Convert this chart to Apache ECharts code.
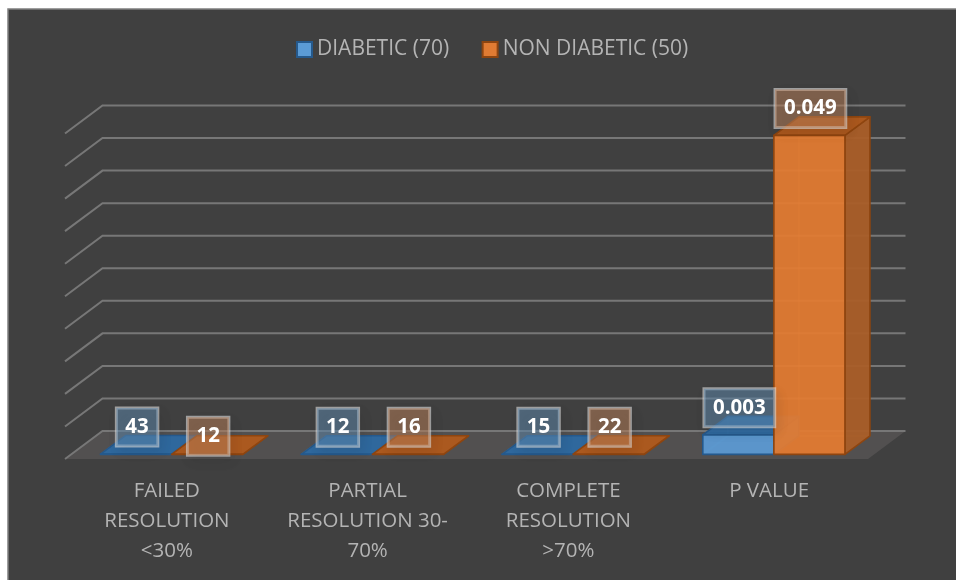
<!DOCTYPE html>
<html>
<head>
<meta charset="utf-8">
<style>html,body{margin:0;padding:0;background:#fff}#chart{width:956px;height:580px}</style>
<script src="https://cdn.jsdelivr.net/npm/echarts@6/dist/echarts.min.js"></script>
</head>
<body>
<div id="chart"></div>
<script>
// Categories, series names and values
const categories = ['FAILED\nRESOLUTION\n<30%', 'PARTIAL\nRESOLUTION 30-\n70%', 'COMPLETE\nRESOLUTION\n>70%', 'P VALUE'];
const seriesNames = ['DIABETIC (70)', 'NON DIABETIC (50)'];
const diabeticCounts = [43, 12, 15];
const nonDiabeticCounts = [12, 16, 22];
const diabeticP = [0.003];
const nonDiabeticP = [0.049];
const pTicks = [0, 0.005, 0.01, 0.015, 0.02, 0.025, 0.03, 0.035, 0.04, 0.045, 0.05];

// Oblique projection of the plot box
const FONT = '"Open Sans", "Noto Sans", sans-serif';
const WALL_DX = 37.5, WALL_DY = -28;
const BAR_DX = 25, BAR_DY = -18.5;
const BAR_INSET_X = 6.25, BAR_INSET_Y = -4.6;
const BAR_SHARE = 0.354;

const palette = [
  { front: 'rgba(91,155,213,0.93)', side: 'rgba(60,115,170,0.9)', top: 'rgba(44,106,164,0.92)',
    edge: '#25598c', inner: 'rgba(150,200,240,0.18)', box: 'rgba(96,140,178,0.5)' },
  { front: 'rgba(228,124,50,0.93)', side: 'rgba(170,94,40,0.95)', top: 'rgba(176,90,28,0.95)',
    edge: '#8e4510', inner: 'rgba(255,190,130,0.22)', box: 'rgba(190,130,90,0.5)' }
];

function poly(points, fill, stroke, z2) {
  return { type: 'polygon', z2, shape: { points },
    style: { fill, stroke: stroke || null, lineWidth: stroke ? 1.6 : 0, lineJoin: 'round' } };
}

// A projected box for one value, with its value tag above the front face
function renderBar(groupIndex) {
  return function (params, api) {
    const c = palette[groupIndex];
    const cat = api.value(0), val = api.value(1);
    const band = api.size([1, 0])[0];
    const w = band * BAR_SHARE;
    const centre = api.coord([cat, 0]);
    const top = api.coord([cat, val]);
    const x0 = centre[0] + BAR_INSET_X + (groupIndex === 0 ? -w : 0);
    const x1 = x0 + w;
    const yB = centre[1] + BAR_INSET_Y;
    const yT = top[1] + BAR_INSET_Y;
    const dx = BAR_DX, dy = BAR_DY;
    const children = [
      { type: 'polyline', z2: 10, shape: { points: [[x0, yB], [x0 + dx, yB + dy], [x1 + dx, yB + dy]] },
        style: { fill: null, stroke: c.inner, lineWidth: 1.5 } },
      { type: 'line', z2: 10, shape: { x1: x0 + dx, y1: yB + dy, x2: x0 + dx, y2: yT + dy },
        style: { stroke: c.inner, lineWidth: 1.5 } },
      poly([[x1, yB], [x1 + dx, yB + dy], [x1 + dx, yT + dy], [x1, yT]], c.side, c.edge, 11),
      poly([[x0, yT], [x1, yT], [x1 + dx, yT + dy], [x0 + dx, yT + dy]], c.top, c.edge, 12),
      poly([[x0, yB], [x1, yB], [x1, yT], [x0, yT]], c.front, c.edge, 13)
    ];
    // The first non-diabetic tag sits lower so it clears its neighbour
    const lift = (groupIndex === 1 && cat === 0) ? 18 : 27;
    children.push({
      type: 'text', z2: 100,
      style: {
        x: (x0 + x1) / 2 + 1, y: yT - lift,
        text: String(api.value(1)), align: 'center', verticalAlign: 'middle',
        fill: '#fff', fontFamily: FONT, fontWeight: 'bold', fontSize: 20.5, lineHeight: 22,
        backgroundColor: c.box, borderColor: 'rgba(225,225,225,0.6)', borderWidth: 1.5,
        padding: [8, 9], shadowColor: 'rgba(0,0,0,0.14)', shadowBlur: 12, shadowOffsetX: 3, shadowOffsetY: 5
      }
    });
    return { type: 'group', children };
  };
}

function barSeries(groupIndex, values, yAxisIndex, firstCat) {
  return {
    type: 'custom', name: seriesNames[groupIndex], yAxisIndex, clip: false, z: 5,
    encode: { x: 0, y: 1 }, silent: true,
    data: values.map((v, i) => [firstCat + i, v]),
    renderItem: renderBar(groupIndex)
  };
}

// Back wall, left wall and floor, one item per value tick
function renderWalls(params, api) {
  const y = api.coord([0, api.value(0)])[1];
  const band = api.size([1, 0])[0];
  const xL = api.coord([0, 0])[0] - band / 2;
  const xR = xL + band * categories.length;
  const children = [];
  if (api.value(0) === 0) {
    children.push(poly([[xL, y], [xR, y], [xR + WALL_DX, y + WALL_DY], [xL + WALL_DX, y + WALL_DY]], '#525050', null, 1));
  }
  children.push({
    type: 'polyline', z2: 2,
    shape: { points: [[xL, y], [xL + WALL_DX, y + WALL_DY], [xR + WALL_DX, y + WALL_DY]] },
    style: { fill: null, stroke: '#777777', lineWidth: 2 }
  });
  return { type: 'group', children };
}

const chart = echarts.init(document.getElementById('chart'), null, { renderer: 'canvas' });
chart.setOption({
  animation: false,
  backgroundColor: '#fff',
  graphic: [{
    type: 'rect', z: -10, silent: true,
    shape: { x: 8, y: 9, width: 960, height: 590 },
    style: { fill: '#404040', stroke: '#7f7f7f', lineWidth: 1.5 }
  }],
  legend: {
    left: 291, top: 34, itemWidth: 15, itemHeight: 15, itemGap: 32.5, selectedMode: false,
    textStyle: { color: '#b4b4b4', fontFamily: FONT, fontSize: 21 },
    data: [
      { name: seriesNames[0], icon: 'rect', itemStyle: { color: '#5b9bd5', borderColor: '#25598c', borderWidth: 2 } },
      { name: seriesNames[1], icon: 'rect', itemStyle: { color: '#e07b33', borderColor: '#8e4510', borderWidth: 2 } }
    ]
  },
  grid: { left: 65, top: 133.5, width: 803, height: 325.5, containLabel: false },
  xAxis: {
    type: 'category', data: categories,
    axisLine: { show: false }, axisTick: { show: false }, splitLine: { show: false },
    axisLabel: { color: '#b4b4b4', fontFamily: FONT, fontSize: 20.5, lineHeight: 30, margin: 17, interval: 0, padding: [0, 0, 0, 3] }
  },
  yAxis: [
    // P values, up to the top of the walls
    { type: 'value', min: 0, max: 0.05, interval: 0.005, show: false },
    // Patient counts, on a range wide enough to keep them beside the P values
    { type: 'value', min: 0, max: 40000, show: false }
  ],
  series: [
    { type: 'custom', name: 'walls', clip: false, z: 1, silent: true, encode: { y: 0 },
      data: pTicks.map(t => [t]), renderItem: renderWalls },
    barSeries(0, diabeticCounts, 1, 0),
    barSeries(1, nonDiabeticCounts, 1, 0),
    barSeries(0, diabeticP, 0, 3),
    barSeries(1, nonDiabeticP, 0, 3)
  ]
});
</script>
</body>
</html>
